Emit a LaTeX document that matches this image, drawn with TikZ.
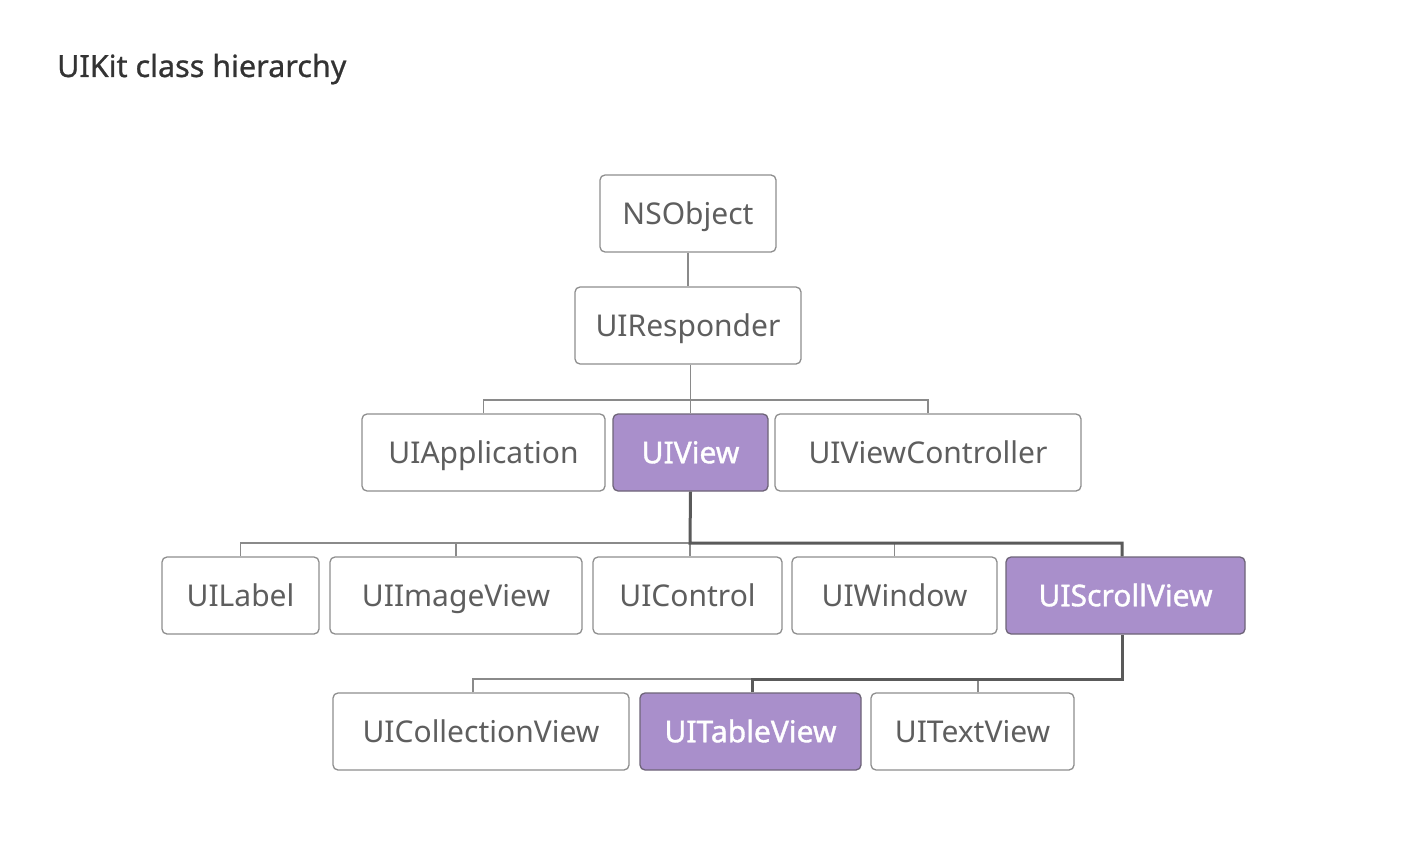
\documentclass[tikz,border=0pt]{standalone}
\usepackage{fontspec}
\setmainfont{Noto Sans}
\newfontfamily\hlfont[FakeBold=1.2]{Noto Sans}
\newfontfamily\titlefont[FakeBold=0.8]{Noto Sans}
\definecolor{boxgray}{HTML}{8E8E8E}
\definecolor{txtgray}{HTML}{5E5E5E}
\definecolor{purp}{HTML}{A98FCB}
\definecolor{purpline}{HTML}{6E6478}
\definecolor{thingray}{HTML}{8A8A8A}
\definecolor{thickgray}{HTML}{5A5A5A}
\definecolor{titlegray}{HTML}{333333}
\begin{document}
\begin{tikzpicture}[x=1pt,y=-1pt,
  box/.style={draw=boxgray, line width=1.3pt, rounded corners=5pt, fill=white,
    text=txtgray, font=\fontsize{30}{32}\selectfont, inner sep=0pt, minimum height=77pt,
    text height=21.5pt, text depth=0pt},
  hl/.style={box, fill=purp, draw=purpline, text=white, font=\hlfont\fontsize{30}{32}\selectfont},
  conn/.style={draw=thingray, line width=1.5pt},
  mainconn/.style={draw=thickgray, line width=3pt}]
\useasboundingbox[fill=white] (0,0) rectangle (1406,864);

\node[anchor=base west, text=titlegray, font=\titlefont\fontsize{30.5}{33}\selectfont, inner sep=0pt] (title) at (57,77) {UIKit class hierarchy};

% row 1, 2
\node[box, minimum width=176pt] (nsobj) at (688,213.5) {NSObject};
\node[box, minimum width=226pt] (resp) at (688,325.5) {UIResponder};
% row 3
\node[box, minimum width=243pt] (uiapp) at (483.5,452.5) {UIApplication};
\node[hl, minimum width=155pt] (uiview) at (690.5,452.5) {UIView};
\node[box, minimum width=306pt] (uivc) at (928,452.5) {UIViewController};
% row 4
\node[box, minimum width=157pt] (uilabel) at (240.5,595.5) {UILabel};
\node[box, minimum width=252pt] (uiimg) at (456,595.5) {UIImageView};
\node[box, minimum width=189pt] (uictrl) at (687.5,595.5) {UIControl};
\node[box, minimum width=205pt] (uiwin) at (894.5,595.5) {UIWindow};
\node[hl, minimum width=239pt] (uiscroll) at (1125.5,595.5) {UIScrollView};
% row 5
\node[box, minimum width=296pt] (uicoll) at (481,731.5) {UICollectionView};
\node[hl, minimum width=221pt] (uitable) at (750.5,731.5) {UITableView};
\node[box, minimum width=203pt] (uitext) at (972.5,731.5) {UITextView};

% bus coordinates
\coordinate (b3) at (690,400);
\coordinate (b4) at (690,543);
\coordinate (b5) at (752,679);

% row 1 -> 2
\draw[conn] (nsobj.south) -- (resp.north);
% row 2 -> 3
\draw[conn] (uiview.north |- resp.south) -- (uiview.north);
\draw[conn] (uiapp.north) -- (uiapp.north |- b3) -| (uivc.north);

% row 3 -> 4
\draw[conn] (uilabel.north) -- (uilabel.north |- b4) -| ([xshift=-3.5pt]uiscroll.north);
\draw[conn] (uiimg.north) -- (uiimg.north |- b4);
\draw[conn] ([xshift=2.5pt]uictrl.north) -- ([xshift=2.5pt]uictrl.north |- b4);
\draw[conn] (uiwin.north) -- (uiwin.north |- b4);
\draw[mainconn] (uiview.south) -- (b4) -| ([xshift=-3.5pt]uiscroll.north);

% row 4 -> 5
\draw[conn] ([xshift=-8pt]uicoll.north) -- ([xshift=-8pt]uicoll.north |- b5) -| ([xshift=-3.5pt]uiscroll.south);
\draw[conn] ([xshift=5.5pt]uitext.north) -- ([xshift=5.5pt]uitext.north |- b5);
\draw[mainconn] ([xshift=1.5pt]uitable.north) -- ([xshift=1.5pt]uitable.north |- b5) -| ([xshift=-3.5pt]uiscroll.south);
\end{tikzpicture}
\end{document}
